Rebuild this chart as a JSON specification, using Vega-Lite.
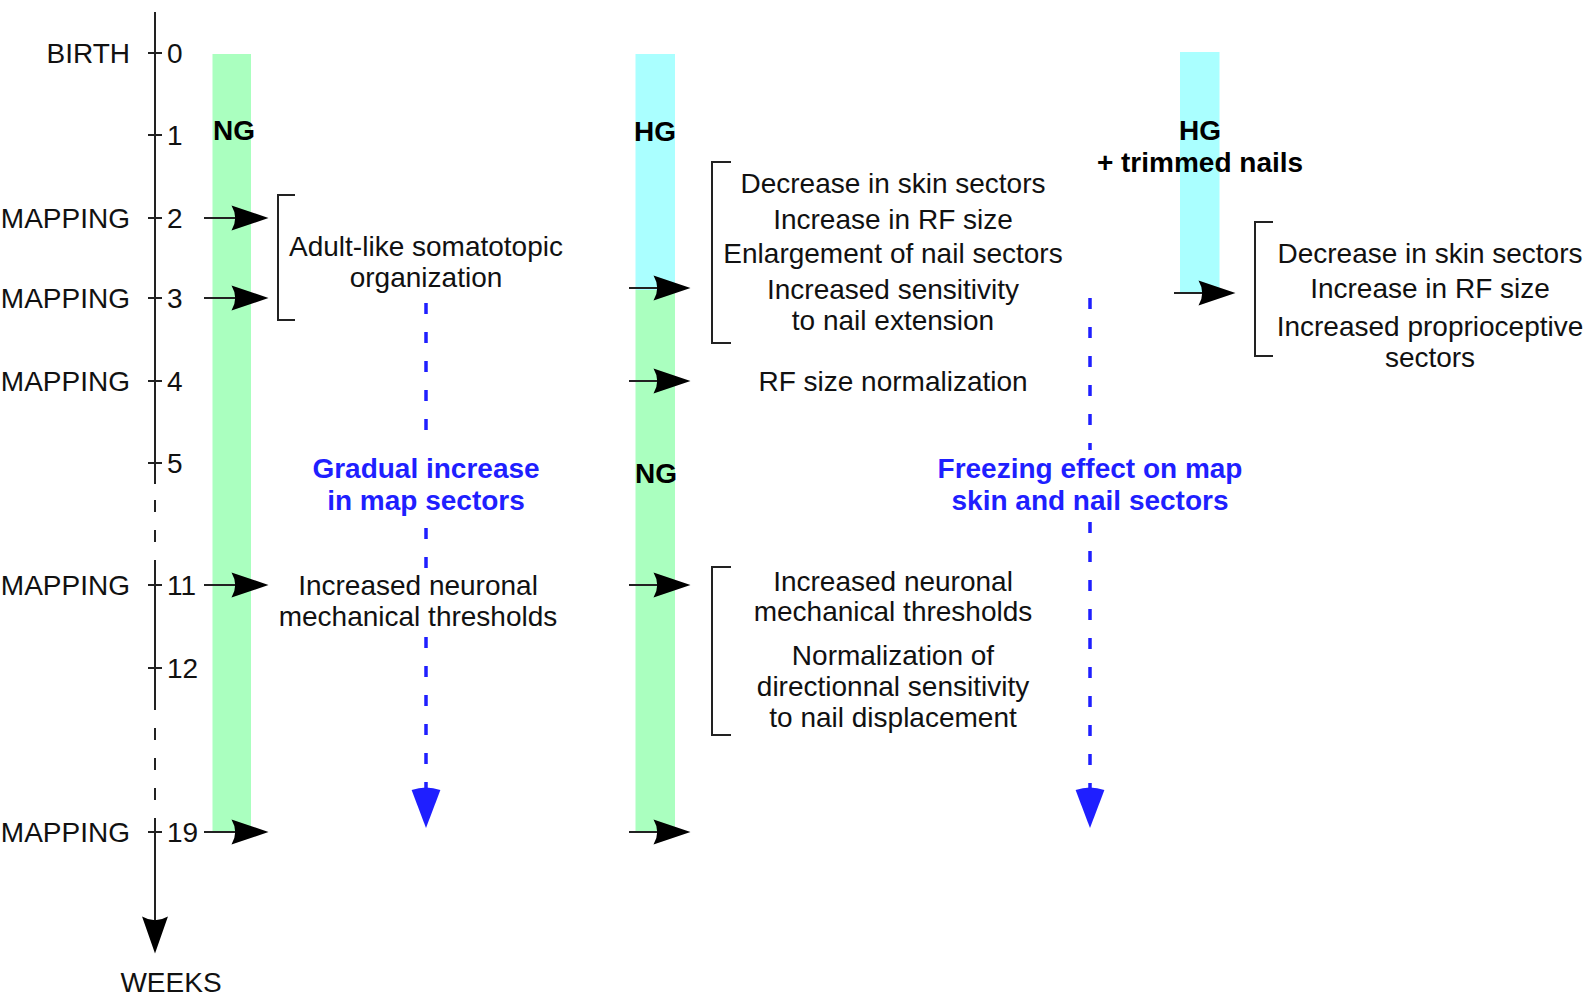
{
  "$schema": "https://vega.github.io/schema/vega-lite/v6.json",
  "width": 1587,
  "height": 997,
  "padding": 0,
  "autosize": {"type": "none"},
  "background": "white",
  "config": {"view": {"stroke": null}},
  "datasets": {
    "bars": [
      {"x": 212.5, "x2": 251, "y": 54, "y2": 832, "phase": "NG"},
      {"x": 635.5, "x2": 675, "y": 54, "y2": 290, "phase": "HG"},
      {"x": 635.5, "x2": 675, "y": 290, "y2": 832, "phase": "NG"},
      {"x": 1180, "x2": 1219.5, "y": 52, "y2": 293, "phase": "HG"}
    ],
    "lines": [
      {"x": 155, "y": 12, "x2": 155, "y2": 484, "kind": "axis"},
      {"x": 155, "y": 500, "x2": 155, "y2": 572, "kind": "axisgap"},
      {"x": 155, "y": 572, "x2": 155, "y2": 710, "kind": "axis"},
      {"x": 155, "y": 728, "x2": 155, "y2": 800, "kind": "axisgap"},
      {"x": 155, "y": 818, "x2": 155, "y2": 925, "kind": "axis"},
      {"x": 148, "y": 53, "x2": 162, "y2": 53, "kind": "tick"},
      {"x": 148, "y": 135, "x2": 162, "y2": 135, "kind": "tick"},
      {"x": 148, "y": 218, "x2": 162, "y2": 218, "kind": "tick"},
      {"x": 148, "y": 298, "x2": 162, "y2": 298, "kind": "tick"},
      {"x": 148, "y": 381, "x2": 162, "y2": 381, "kind": "tick"},
      {"x": 148, "y": 463, "x2": 162, "y2": 463, "kind": "tick"},
      {"x": 148, "y": 585, "x2": 162, "y2": 585, "kind": "tick"},
      {"x": 148, "y": 668, "x2": 162, "y2": 668, "kind": "tick"},
      {"x": 148, "y": 832, "x2": 162, "y2": 832, "kind": "tick"},
      {"x": 204, "y": 218, "x2": 245, "y2": 218, "kind": "arrow"},
      {"x": 204, "y": 298, "x2": 245, "y2": 298, "kind": "arrow"},
      {"x": 204, "y": 585, "x2": 245, "y2": 585, "kind": "arrow"},
      {"x": 204, "y": 832, "x2": 245, "y2": 832, "kind": "arrow"},
      {"x": 629, "y": 288, "x2": 668, "y2": 288, "kind": "arrow"},
      {"x": 629, "y": 381, "x2": 668, "y2": 381, "kind": "arrow"},
      {"x": 629, "y": 585, "x2": 668, "y2": 585, "kind": "arrow"},
      {"x": 629, "y": 832, "x2": 668, "y2": 832, "kind": "arrow"},
      {"x": 1174, "y": 293, "x2": 1213, "y2": 293, "kind": "arrow"},
      {"x": 278, "y": 195, "x2": 278, "y2": 320, "kind": "bracket"},
      {"x": 277, "y": 195, "x2": 295, "y2": 195, "kind": "bracket"},
      {"x": 277, "y": 320, "x2": 295, "y2": 320, "kind": "bracket"},
      {"x": 712, "y": 162, "x2": 712, "y2": 343, "kind": "bracket"},
      {"x": 711, "y": 162, "x2": 731, "y2": 162, "kind": "bracket"},
      {"x": 711, "y": 343, "x2": 731, "y2": 343, "kind": "bracket"},
      {"x": 712, "y": 567, "x2": 712, "y2": 735, "kind": "bracket"},
      {"x": 711, "y": 567, "x2": 731, "y2": 567, "kind": "bracket"},
      {"x": 711, "y": 735, "x2": 731, "y2": 735, "kind": "bracket"},
      {"x": 1255, "y": 222, "x2": 1255, "y2": 356, "kind": "bracket"},
      {"x": 1254, "y": 222, "x2": 1273, "y2": 222, "kind": "bracket"},
      {"x": 1254, "y": 356, "x2": 1273, "y2": 356, "kind": "bracket"},
      {"x": 426, "y": 303, "x2": 426, "y2": 448, "kind": "trend"},
      {"x": 426, "y": 528, "x2": 426, "y2": 570, "kind": "trend"},
      {"x": 426, "y": 637, "x2": 426, "y2": 792, "kind": "trend"},
      {"x": 1090, "y": 298, "x2": 1090, "y2": 450, "kind": "trend"},
      {"x": 1090, "y": 522, "x2": 1090, "y2": 792, "kind": "trend"}
    ],
    "heads": [
      {"x": 250, "y": 218, "kind": "right"},
      {"x": 250, "y": 298, "kind": "right"},
      {"x": 250, "y": 585, "kind": "right"},
      {"x": 250, "y": 832, "kind": "right"},
      {"x": 672, "y": 288, "kind": "right"},
      {"x": 672, "y": 381, "kind": "right"},
      {"x": 672, "y": 585, "kind": "right"},
      {"x": 672, "y": 832, "kind": "right"},
      {"x": 1217, "y": 293, "kind": "right"},
      {"x": 155, "y": 935, "kind": "axis"},
      {"x": 426, "y": 808, "kind": "trend"},
      {"x": 1090, "y": 808, "kind": "trend"}
    ],
    "texts": [
      {"x": 130, "y": 53, "text": "BIRTH", "kind": "right"},
      {"x": 130, "y": 218, "text": "MAPPING", "kind": "right"},
      {"x": 130, "y": 298, "text": "MAPPING", "kind": "right"},
      {"x": 130, "y": 381, "text": "MAPPING", "kind": "right"},
      {"x": 130, "y": 585, "text": "MAPPING", "kind": "right"},
      {"x": 130, "y": 832, "text": "MAPPING", "kind": "right"},
      {"x": 167, "y": 53, "text": "0", "kind": "left"},
      {"x": 167, "y": 135, "text": "1", "kind": "left"},
      {"x": 167, "y": 218, "text": "2", "kind": "left"},
      {"x": 167, "y": 298, "text": "3", "kind": "left"},
      {"x": 167, "y": 381, "text": "4", "kind": "left"},
      {"x": 167, "y": 463, "text": "5", "kind": "left"},
      {"x": 167, "y": 585, "text": "11", "kind": "left"},
      {"x": 167, "y": 668, "text": "12", "kind": "left"},
      {"x": 167, "y": 832, "text": "19", "kind": "left"},
      {"x": 171, "y": 982, "text": "WEEKS", "kind": "center"},
      {"x": 426, "y": 246, "text": "Adult-like somatotopic", "kind": "center"},
      {"x": 426, "y": 277, "text": "organization", "kind": "center"},
      {"x": 418, "y": 585, "text": "Increased neuronal", "kind": "center"},
      {"x": 418, "y": 616, "text": "mechanical thresholds", "kind": "center"},
      {"x": 893, "y": 183, "text": "Decrease in skin sectors", "kind": "center"},
      {"x": 893, "y": 219, "text": "Increase in RF size", "kind": "center"},
      {"x": 893, "y": 253, "text": "Enlargement of nail sectors", "kind": "center"},
      {"x": 893, "y": 289, "text": "Increased sensitivity", "kind": "center"},
      {"x": 893, "y": 320, "text": "to nail extension", "kind": "center"},
      {"x": 893, "y": 381, "text": "RF size normalization", "kind": "center"},
      {"x": 893, "y": 581, "text": "Increased neuronal", "kind": "center"},
      {"x": 893, "y": 611, "text": "mechanical thresholds", "kind": "center"},
      {"x": 893, "y": 655, "text": "Normalization of", "kind": "center"},
      {"x": 893, "y": 686, "text": "directionnal sensitivity", "kind": "center"},
      {"x": 893, "y": 717, "text": "to nail displacement", "kind": "center"},
      {"x": 1430, "y": 253, "text": "Decrease in skin sectors", "kind": "center"},
      {"x": 1430, "y": 288, "text": "Increase in RF size", "kind": "center"},
      {"x": 1430, "y": 326, "text": "Increased proprioceptive", "kind": "center"},
      {"x": 1430, "y": 357, "text": "sectors", "kind": "center"},
      {"x": 234, "y": 130, "text": "NG", "kind": "bold"},
      {"x": 655, "y": 131, "text": "HG", "kind": "bold"},
      {"x": 656, "y": 473, "text": "NG", "kind": "bold"},
      {"x": 1200, "y": 130, "text": "HG", "kind": "bold"},
      {"x": 1200, "y": 162, "text": "+ trimmed nails", "kind": "bold"},
      {"x": 426, "y": 468, "text": "Gradual increase", "kind": "blue"},
      {"x": 426, "y": 500, "text": "in map sectors", "kind": "blue"},
      {"x": 1090, "y": 468, "text": "Freezing effect on map", "kind": "blue"},
      {"x": 1090, "y": 500, "text": "skin and nail sectors", "kind": "blue"}
    ]
  },
  "encoding": {
    "x": {"field": "x", "type": "quantitative", "scale": {"domain": [0, 1587], "nice": false, "zero": false}, "axis": null},
    "y": {"field": "y", "type": "quantitative", "scale": {"domain": [0, 997], "nice": false, "zero": false, "reverse": true}, "axis": null}
  },
  "layer": [
    {
      "data": {"name": "bars"},
      "mark": {"type": "rect", "opacity": 1},
      "encoding": {
        "x2": {"field": "x2"},
        "y2": {"field": "y2"},
        "color": {"field": "phase", "type": "nominal", "scale": {"domain": ["NG", "HG"], "range": ["#aaffbf", "#aaffff"]}, "legend": null}
      }
    },
    {
      "data": {"name": "lines"},
      "transform": [{"filter": "datum.kind === 'axis' || datum.kind === 'tick' || datum.kind === 'bracket' || datum.kind === 'arrow'"}],
      "mark": {"type": "rule", "color": "#222222", "strokeWidth": 2},
      "encoding": {"x2": {"field": "x2"}, "y2": {"field": "y2"}}
    },
    {
      "data": {"name": "lines"},
      "transform": [{"filter": "datum.kind === 'axisgap'"}],
      "mark": {"type": "rule", "color": "#222222", "strokeWidth": 2, "strokeDash": [12, 18]},
      "encoding": {"x2": {"field": "x2"}, "y2": {"field": "y2"}}
    },
    {
      "data": {"name": "lines"},
      "transform": [{"filter": "datum.kind === 'trend'"}],
      "mark": {"type": "rule", "color": "#1f1fff", "strokeWidth": 3.5, "strokeDash": [11, 18]},
      "encoding": {"x2": {"field": "x2"}, "y2": {"field": "y2"}}
    },
    {
      "data": {"name": "heads"},
      "transform": [{"filter": "datum.kind === 'right'"}],
      "mark": {"type": "point", "filled": true, "opacity": 1, "color": "black", "strokeWidth": 0, "size": 1369, "shape": "M1,0L-1,-0.68Q-0.6,0,-1,0.68Z"}
    },
    {
      "data": {"name": "heads"},
      "transform": [{"filter": "datum.kind === 'axis'"}],
      "mark": {"type": "point", "filled": true, "opacity": 1, "color": "black", "strokeWidth": 0, "size": 1369, "shape": "M0,1L-0.7,-1Q0,-0.6,0.7,-1Z"}
    },
    {
      "data": {"name": "heads"},
      "transform": [{"filter": "datum.kind === 'trend'"}],
      "mark": {"type": "point", "filled": true, "opacity": 1, "color": "#1f1fff", "strokeWidth": 0, "size": 1600, "shape": "M0,1L-0.72,-0.9Q0,-1.15,0.72,-0.9Z"}
    },
    {
      "data": {"name": "texts"},
      "transform": [{"filter": "datum.kind === 'right'"}],
      "mark": {"type": "text", "align": "right", "baseline": "middle", "dy": 2, "font": "Liberation Sans", "fontSize": 28, "color": "#111111"},
      "encoding": {"text": {"field": "text"}}
    },
    {
      "data": {"name": "texts"},
      "transform": [{"filter": "datum.kind === 'left'"}],
      "mark": {"type": "text", "align": "left", "baseline": "middle", "dy": 2, "font": "Liberation Sans", "fontSize": 28, "color": "#111111"},
      "encoding": {"text": {"field": "text"}}
    },
    {
      "data": {"name": "texts"},
      "transform": [{"filter": "datum.kind === 'center'"}],
      "mark": {"type": "text", "align": "center", "baseline": "middle", "dy": 2, "font": "Liberation Sans", "fontSize": 28, "color": "#111111"},
      "encoding": {"text": {"field": "text"}}
    },
    {
      "data": {"name": "texts"},
      "transform": [{"filter": "datum.kind === 'bold'"}],
      "mark": {"type": "text", "align": "center", "baseline": "middle", "dy": 2, "font": "Liberation Sans", "fontSize": 28, "fontWeight": "bold", "color": "#000000"},
      "encoding": {"text": {"field": "text"}}
    },
    {
      "data": {"name": "texts"},
      "transform": [{"filter": "datum.kind === 'blue'"}],
      "mark": {"type": "text", "align": "center", "baseline": "middle", "dy": 2, "font": "Liberation Sans", "fontSize": 28, "fontWeight": "bold", "color": "#1f1fff"},
      "encoding": {"text": {"field": "text"}}
    }
  ]
}
